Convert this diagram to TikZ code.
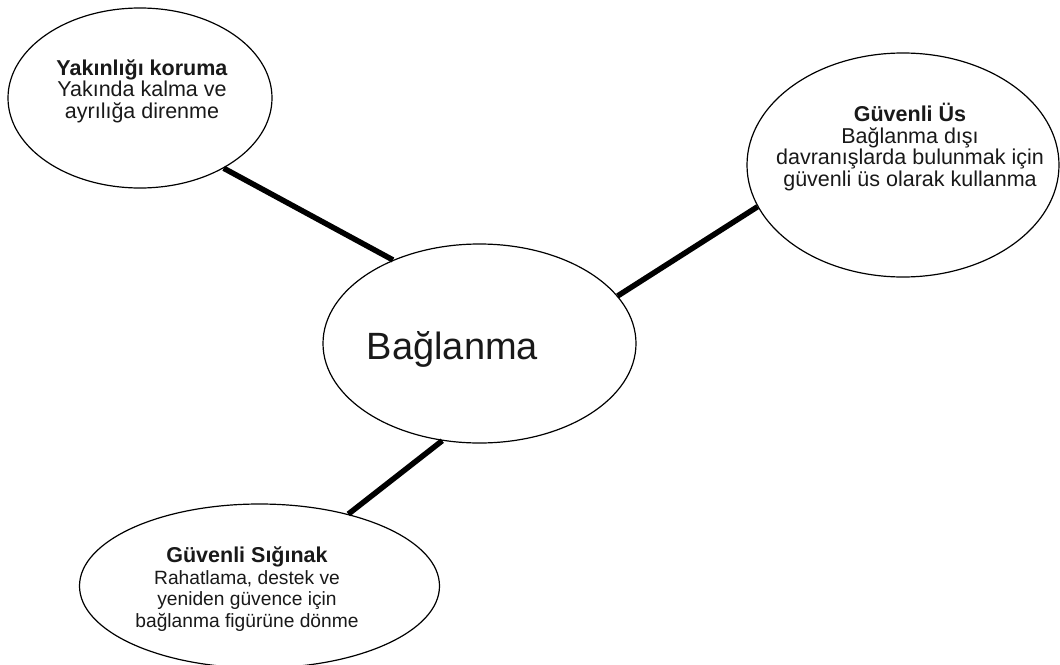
\documentclass[tikz,border=0pt]{standalone}
\usepackage{fontspec}
\setmainfont{Liberation Sans}
\usetikzlibrary{shapes.geometric}
\tikzset{
  bubble/.style={ellipse, draw=black, line width=1.2pt, inner sep=0pt},
  link/.style={draw=black, line width=5.5pt},
  txt/.style={align=center, inner sep=0pt, text=black!90},
}
\newcommand{\bodyfont}{\fontsize{21.5}{21.5}\selectfont}
\newcommand{\smallbody}{\fontsize{19.2}{21.5}\selectfont}
\begin{document}
\begin{tikzpicture}[x=1pt, y=-1pt]
\path[use as bounding box, fill=white] (0,0) rectangle (1060,664);

% ellipses
\node[bubble, minimum width=264pt, minimum height=180pt] (prox) at (140,98) {};
\node[bubble, minimum width=313pt, minimum height=199pt] (att) at (479.5,343.5) {};
\node[bubble, minimum width=312pt, minimum height=224pt] (base) at (903,165) {};
\node[bubble, minimum width=360pt, minimum height=164pt] (haven) at (259.5,586) {};

% texts
\node[txt, font=\bodyfont] (proxt) at (142,91)
  {\textbf{Yakınlığı koruma}\\Yakında kalma ve\\ayrılığa direnme};
\node[txt, font=\fontsize{38}{40}\selectfont] (attt) at (452.5,349) {Bağlanma};
\node[txt, font=\bodyfont] (baset) at (910,147)
  {\textbf{Güvenli Üs}\\Bağlanma dışı\\davranışlarda bulunmak için\\güvenli üs olarak kullanma};
\node[txt, font=\smallbody] (havent) at (247,589)
  {{\fontsize{21.5}{21.5}\selectfont\textbf{Güvenli Sığınak}}\\Rahatlama, destek ve\\yeniden güvence için\\bağlanma figürüne dönme};

% connectors
\draw[link] (prox.-40.4) -- (att.136.7);
\draw[link] (att.19.6) -- (base.196);
\draw[link] (att.249.35) -- (haven.39.1);
\end{tikzpicture}
\end{document}
